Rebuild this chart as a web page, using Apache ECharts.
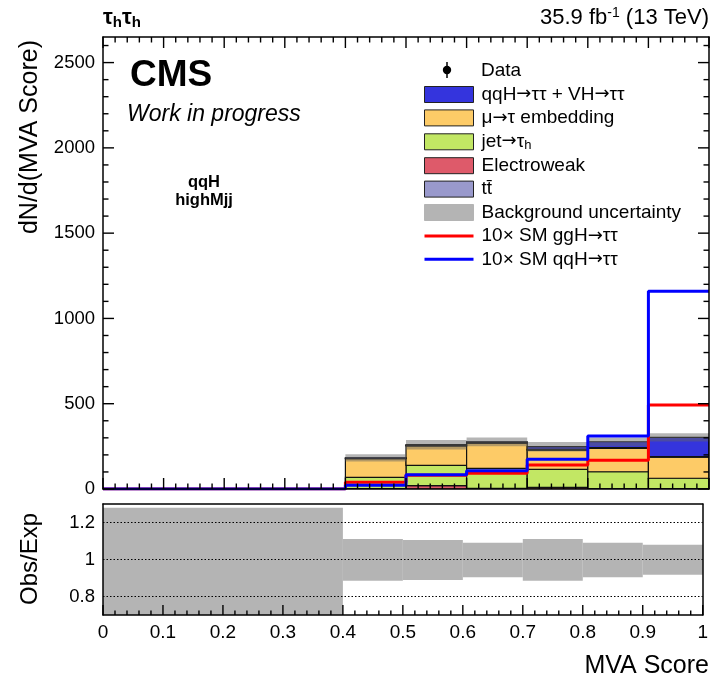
<!DOCTYPE html>
<html>
<head>
<meta charset="utf-8">
<script src="https://cdn.jsdelivr.net/npm/echarts@6.0.0/dist/echarts.min.js"></script>
<style>
  html, body { margin: 0; padding: 0; background: #fff; }
  #chart { width: 711px; height: 678px; }
</style>
</head>
<body>
<div id="chart"></div>
<script>
// Bin edges of the MVA score histogram (first bin merges 0-0.4)
const binEdges = [0, 0.4, 0.5, 0.6, 0.7, 0.8, 0.9, 1.0];

// Event yields per bin, stacked bottom to top
const electroweak = [0, 3, 20, 4, 10, 3, 2];
const jetFakes    = [0, 65, 119, 117, 105, 98, 61];
const embedding   = [0, 110, 113, 148, 113, 137, 123];
const ttbar       = [0, 3, 4, 4, 4, 4, 4];
const qqhVh       = [0, 2, 4, 4, 16, 35, 113];

// Relative background uncertainty band (Obs/Exp panel)
const ratioUp   = [1.28, 1.111, 1.106, 1.090, 1.111, 1.090, 1.080];
const ratioDown = [0.70, 0.885, 0.889, 0.904, 0.885, 0.904, 0.917];

// Signal overlays, scaled 10x SM
const ggh10 = [0, 40, 80, 92, 140, 168, 492];
const qqh10 = [0, 22, 84, 107, 175, 310, 1160];

// Axis ticks
const xTicks = [0, 0.1, 0.2, 0.3, 0.4, 0.5, 0.6, 0.7, 0.8, 0.9, 1];
const yTicks = [0, 500, 1000, 1500, 2000, 2500];
const ratioTickLabels = [0.8, 1, 1.2];
const ratioGuides = [0.8, 1.0, 1.2];

const FONT = 'Liberation Sans';
const nBins = binEdges.length - 1;
const Y_MAX = 2650;
const R_MIN = 0.7, R_MAX = 1.3;
const MAIN_GRID = { left: 103, top: 37, width: 606, height: 452 };
const RATIO_GRID = { left: 103, top: 504, width: 606, height: 111 };

const processes = [
  { name: 'Electroweak', values: electroweak, color: '#de5a6a' },
  { name: 'jet→τh', values: jetFakes, color: '#c2e764' },
  { name: 'μ→τ embedding', values: embedding, color: '#fdcb67' },
  { name: 'tt\u0304', values: ttbar, color: '#9999cc' },
  { name: 'qqH→ττ + VH→ττ', values: qqhVh, color: '#3434dd' }
];

// cumulative stack built from the per-process arrays
const base = new Array(nBins).fill(0);
const stackSeries = processes.map(p => {
  const data = [];
  for (let i = 0; i < nBins; i++) {
    data.push([binEdges[i], binEdges[i + 1], base[i], base[i] + p.values[i]]);
    base[i] += p.values[i];
  }
  return {
    name: p.name,
    type: 'custom',
    xAxisIndex: 0, yAxisIndex: 0,
    itemStyle: { color: p.color },
    encode: { x: [0, 1], y: [2, 3] },
    clip: true,
    z: 2,
    renderItem: function (params, api) {
      const lo = api.value(2), hi = api.value(3);
      if (hi - lo <= 0) return null;
      const p0 = api.coord([api.value(0), hi]);
      const p1 = api.coord([api.value(1), lo]);
      return {
        type: 'rect',
        shape: { x: p0[0], y: p0[1], width: p1[0] - p0[0], height: p1[1] - p0[1] },
        style: { fill: p.color, stroke: '#111', lineWidth: 1.2 }
      };
    },
    data: data
  };
});
const totals = base.slice();

// band around the total background
const bandData = [];
for (let i = 0; i < nBins; i++) {
  bandData.push([binEdges[i], binEdges[i + 1], totals[i] * ratioDown[i], totals[i] * ratioUp[i]]);
}
const ratioBandData = [];
for (let i = 0; i < nBins; i++) {
  ratioBandData.push([binEdges[i], binEdges[i + 1], ratioDown[i], ratioUp[i]]);
}

function rectRenderer(fill) {
  return function (params, api) {
    const lo = api.value(2), hi = api.value(3);
    if (hi - lo <= 0) return null;
    const p0 = api.coord([api.value(0), hi]);
    const p1 = api.coord([api.value(1), lo]);
    return {
      type: 'rect',
      shape: { x: p0[0], y: p0[1], width: p1[0] - p0[0], height: p1[1] - p0[1] },
      style: { fill: fill }
    };
  };
}

function stepData(values) {
  const pts = [];
  for (let i = 0; i < nBins; i++) pts.push([binEdges[i], values[i]]);
  pts.push([binEdges[nBins], values[nBins - 1]]);
  return pts;
}

// 5-fold minor subdivisions between (and just past) the major ticks
function minorTicks(majors, upper) {
  const out = [];
  const step = majors[1] - majors[0];
  const ext = majors.concat([majors[majors.length - 1] + step]);
  for (let i = 0; i + 1 < ext.length; i++) {
    for (let k = 1; k < 5; k++) {
      const v = ext[i] + (ext[i + 1] - ext[i]) * k / 5;
      if (v < upper - 1e-9) out.push(v);
    }
  }
  return out;
}

// legend labels: arrows set in DejaVu for a long shaft, subscript h on τh
function legendLabel(name) {
  if (name === 'jet→τh') return '{a|jet}{r|→}{a|τ}{b|h}';
  const parts = name.split('→');
  return parts.map(s => (s ? '{a|' + s + '}' : '')).join('{r|→}');
}

function frameLine(onZero) {
  return { show: true, onZero: onZero, lineStyle: { color: '#000', width: 1.5 } };
}
const noTicks = { show: false };

const textGraphics = [
  // top labels
  { type: 'text', left: 103, top: 6, style: {
      text: '{t|τ}{s|h}{t|τ}{s|h}',
      rich: {
        t: { fontFamily: FONT, fontWeight: 'bold', fontSize: 22, fill: '#000', lineHeight: 22 },
        s: { fontFamily: FONT, fontWeight: 'bold', fontSize: 15, fill: '#000', lineHeight: 15, padding: [9, 0, 0, 0] }
      } } },
  { type: 'text', right: 2, top: 6, style: {
      text: '{t|35.9 fb}{s|-1}{t| (13 TeV)}',
      rich: {
        t: { fontFamily: FONT, fontSize: 22, fill: '#000', lineHeight: 22 },
        s: { fontFamily: FONT, fontSize: 14, fill: '#000', lineHeight: 14, padding: [0, 0, 10, 0] }
      } } },
  { type: 'text', x: 130, y: 76, style: { text: 'CMS', font: 'bold 37px "Liberation Sans"', fill: '#000', textVerticalAlign: 'middle' } },
  { type: 'text', x: 127, y: 115, style: { text: 'Work in progress', font: 'italic 23px "Liberation Sans"', fill: '#000', textVerticalAlign: 'middle' } },
  { type: 'text', x: 204, y: 182, style: { text: 'qqH', font: 'bold 16.5px "Liberation Sans"', fill: '#000', textAlign: 'center', textVerticalAlign: 'middle' } },
  { type: 'text', x: 204, y: 200, style: { text: 'highMjj', font: 'bold 16.5px "Liberation Sans"', fill: '#000', textAlign: 'center', textVerticalAlign: 'middle' } },
  // axis titles
  { type: 'text', x: 30, y: 40, rotation: Math.PI / 2, style: { text: 'dN/d(MVA Score)', font: '25px "Liberation Sans"', fill: '#000', textAlign: 'right', textVerticalAlign: 'middle' } },
  { type: 'text', x: 30, y: 559, rotation: Math.PI / 2, style: { text: 'Obs/Exp', font: '24px "Liberation Sans"', fill: '#000', textAlign: 'center', textVerticalAlign: 'middle' } },
  { type: 'text', x: 709, y: 666, style: { text: 'MVA Score', font: '25px "Liberation Sans"', fill: '#000', textAlign: 'right', textVerticalAlign: 'middle' } },
  // data legend entry
  { type: 'line', shape: { x1: 447, y1: 62, x2: 447, y2: 78 }, style: { stroke: '#000', lineWidth: 1.5 } },
  { type: 'circle', shape: { cx: 447, cy: 70, r: 4.2 }, style: { fill: '#000' } },
  { type: 'text', x: 481, y: 71, style: { text: 'Data', font: '19px "Liberation Sans"', fill: '#000', textVerticalAlign: 'middle' } }
];

const chart = echarts.init(document.getElementById('chart'), null, { renderer: 'canvas' });

chart.setOption({
  animation: false,
  backgroundColor: '#fff',
  textStyle: { fontFamily: FONT },
  grid: [
    Object.assign({ show: false }, MAIN_GRID),
    Object.assign({ show: false }, RATIO_GRID)
  ],
  xAxis: [
    {
      gridIndex: 0, type: 'value', position: 'bottom', min: 0, max: 1, interval: 0.1, z: 10,
      axisLine: frameLine(true), axisTick: noTicks,
      axisLabel: { show: false }, splitLine: { show: false }
    },
    {
      gridIndex: 0, type: 'value', position: 'top', min: 0, max: 1, interval: 0.1, z: 10,
      axisLine: frameLine(false), axisTick: noTicks,
      axisLabel: { show: false }, splitLine: { show: false }
    },
    {
      gridIndex: 1, type: 'value', position: 'bottom', min: 0, max: 1, interval: 0.1, z: 10,
      axisLine: frameLine(true), axisTick: noTicks,
      axisLabel: {
        show: true, margin: 8, color: '#000', fontSize: 19, fontFamily: FONT,
        formatter: v => {
          const r = Math.round(v * 10) / 10;
          return xTicks.indexOf(r) >= 0 ? String(r) : '';
        }
      },
      splitLine: { show: false }
    },
    {
      gridIndex: 1, type: 'value', position: 'top', min: 0, max: 1, z: 10,
      axisLine: frameLine(false), axisTick: noTicks,
      axisLabel: { show: false }, splitLine: { show: false }
    }
  ],
  yAxis: [
    {
      gridIndex: 0, type: 'value', position: 'left', min: 0, max: Y_MAX, interval: 500, z: 10,
      axisLine: frameLine(true), axisTick: noTicks,
      axisLabel: {
        color: '#000', fontSize: 18.5, fontFamily: FONT, margin: 8, showMaxLabel: false,
        formatter: v => (yTicks.indexOf(v) >= 0 ? String(v) : '')
      },
      splitLine: { show: false }
    },
    {
      gridIndex: 0, type: 'value', position: 'right', min: 0, max: Y_MAX, interval: 500, z: 10,
      axisLine: frameLine(false), axisTick: noTicks,
      axisLabel: { show: false }, splitLine: { show: false }
    },
    {
      gridIndex: 1, type: 'value', position: 'left', min: R_MIN, max: R_MAX, interval: 0.1, z: 10,
      axisLine: frameLine(true), axisTick: noTicks,
      axisLabel: {
        color: '#000', fontSize: 18.5, fontFamily: FONT, margin: 8,
        formatter: v => {
          const r = Math.round(v * 10) / 10;
          return ratioTickLabels.indexOf(r) >= 0 ? String(r) : '';
        }
      },
      splitLine: { show: false }
    },
    {
      gridIndex: 1, type: 'value', position: 'right', min: R_MIN, max: R_MAX, z: 10,
      axisLine: frameLine(false), axisTick: noTicks,
      axisLabel: { show: false }, splitLine: { show: false }
    }
  ],
  legend: {
    orient: 'vertical', left: 423, top: 85, padding: 0,
    itemWidth: 49, itemHeight: 16, itemGap: 4.4,
    selectedMode: false,
    textStyle: {
      fontFamily: FONT, fontSize: 19, color: '#000', lineHeight: 19, padding: [0, 0, 0, 3],
      rich: {
        a: { fontFamily: FONT, fontSize: 19, color: '#000', lineHeight: 19 },
        r: { fontFamily: 'DejaVu Sans', fontSize: 18, color: '#000', lineHeight: 19 },
        b: { fontFamily: FONT, fontSize: 13, color: '#000', lineHeight: 13, padding: [7, 0, 0, 0] }
      }
    },
    formatter: legendLabel,
    data: [
      { name: 'qqH→ττ + VH→ττ', icon: 'rect', itemStyle: { color: '#3434dd', borderColor: '#222', borderWidth: 1 } },
      { name: 'μ→τ embedding', icon: 'rect', itemStyle: { color: '#fdcb67', borderColor: '#222', borderWidth: 1 } },
      { name: 'jet→τh', icon: 'rect', itemStyle: { color: '#c2e764', borderColor: '#222', borderWidth: 1 } },
      { name: 'Electroweak', icon: 'rect', itemStyle: { color: '#de5a6a', borderColor: '#222', borderWidth: 1 } },
      { name: 'tt\u0304', icon: 'rect', itemStyle: { color: '#9999cc', borderColor: '#222', borderWidth: 1 } },
      { name: 'Background uncertainty', icon: 'rect', itemStyle: { color: '#b4b4b4', borderColor: '#b4b4b4', borderWidth: 1 } },
      { name: '10× SM ggH→ττ', itemStyle: { opacity: 0 }, lineStyle: { color: '#ff0000', width: 3 } },
      { name: '10× SM qqH→ττ', itemStyle: { opacity: 0 }, lineStyle: { color: '#0000ff', width: 3 } }
    ]
  },
  series: stackSeries.concat([
    {
      name: 'Background uncertainty', type: 'custom', xAxisIndex: 0, yAxisIndex: 0,
      itemStyle: { color: '#b4b4b4' }, encode: { x: [0, 1], y: [2, 3] }, clip: true, z: 3,
      renderItem: rectRenderer('rgba(100,100,100,0.48)'), data: bandData
    },
    {
      name: '10× SM ggH→ττ', type: 'line', step: 'end', xAxisIndex: 0, yAxisIndex: 0,
      symbol: 'none', z: 4, lineStyle: { color: '#ff0000', width: 3 }, itemStyle: { color: '#ff0000' },
      data: stepData(ggh10)
    },
    {
      name: '10× SM qqH→ττ', type: 'line', step: 'end', xAxisIndex: 0, yAxisIndex: 0,
      symbol: 'none', z: 5, lineStyle: { color: '#0000ff', width: 3 }, itemStyle: { color: '#0000ff' },
      data: stepData(qqh10)
    },
    {
      name: 'ratioBand', type: 'custom', xAxisIndex: 2, yAxisIndex: 2,
      encode: { x: [0, 1], y: [2, 3] }, clip: true, z: 2,
      renderItem: rectRenderer('#b4b4b4'), data: ratioBandData
    },
    {
      name: 'ratioGuides', type: 'custom', xAxisIndex: 2, yAxisIndex: 2,
      encode: { y: 0 }, clip: true, z: 3,
      renderItem: function (params, api) {
        const v = api.value(0);
        const a = api.coord([0, v]);
        const b = api.coord([1, v]);
        return {
          type: 'line',
          shape: { x1: a[0], y1: a[1], x2: b[0], y2: b[1] },
          style: { stroke: '#000', lineWidth: 1, lineDash: [1.5, 2] }
        };
      },
      data: ratioGuides.map(v => [v])
    }
  ])
});

// Inward frame ticks, positioned through each axis' value-to-pixel mapping
function axisPx(finder, v, fallback) {
  let p;
  try { p = chart.convertToPixel(finder, v); } catch (e) { p = NaN; }
  if (Array.isArray(p)) p = p[0];
  return isFinite(p) ? p : fallback(v);
}
function frameTicks() {
  const marks = [];
  const W = 1.4;
  const vbar = (x, y0, len) => marks.push({ type: 'rect', silent: true, z: 100,
    shape: { x: x - W / 2, y: Math.min(y0, y0 + len), width: W, height: Math.abs(len) }, style: { fill: '#000' } });
  const hbar = (y, x0, len) => marks.push({ type: 'rect', silent: true, z: 100,
    shape: { x: Math.min(x0, x0 + len), y: y - W / 2, width: Math.abs(len), height: W }, style: { fill: '#000' } });

  const fx = g => v => g.left + g.width * v;
  const fyMain = v => MAIN_GRID.top + MAIN_GRID.height * (1 - v / Y_MAX);
  const xMinor = minorTicks(xTicks, 1);
  const yMinor = minorTicks(yTicks, Y_MAX);
  const mainBottom = MAIN_GRID.top + MAIN_GRID.height;
  const mainRight = MAIN_GRID.left + MAIN_GRID.width;
  const ratioBottom = RATIO_GRID.top + RATIO_GRID.height;

  xTicks.map(v => [v, 11]).concat(xMinor.map(v => [v, 5.5])).forEach(([v, len]) => {
    const x = axisPx({ xAxisIndex: 0 }, v, fx(MAIN_GRID));
    vbar(x, mainBottom, -len);
    vbar(x, MAIN_GRID.top, len);
    const xr = axisPx({ xAxisIndex: 2 }, v, fx(RATIO_GRID));
    vbar(xr, ratioBottom, -(len - 1));
  });
  yTicks.map(v => [v, 11]).concat(yMinor.map(v => [v, 5.5])).forEach(([v, len]) => {
    const y = axisPx({ yAxisIndex: 0 }, v, fyMain);
    hbar(y, MAIN_GRID.left, len);
    hbar(y, mainRight, -len);
  });
  return marks;
}

chart.setOption({ graphic: textGraphics.concat(frameTicks()) });
</script>
</body>
</html>
